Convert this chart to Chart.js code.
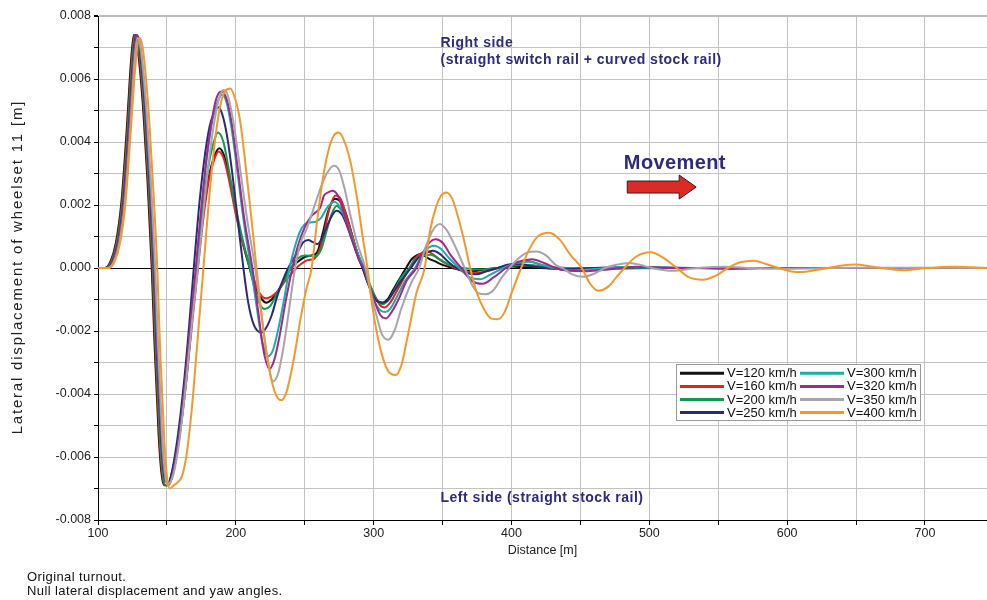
<!DOCTYPE html>
<html><head><meta charset="utf-8">
<script src="https://cdn.jsdelivr.net/npm/chart.js@4.4.0/dist/chart.umd.min.js"></script>
<style>html,body{margin:0;padding:0;background:#fff;}canvas{display:block;}</style>
</head><body>
<canvas id="c" width="987" height="600"></canvas>
<script>
// ---- data: [distance (m), lateral displacement (m)] ----
const s120 = [[100,0],[105,0],[109,0.0002],[113,0.0008],[117,0.0021],[121,0.0045],[124,0.0066],[126,0.0074],[128,0.0072],[130,0.0065],[133,0.0049],[136,0.0027],[139,0],[141,-0.0024],[144,-0.0053],[146,-0.0065],[148,-0.0069],[150,-0.0069],[153,-0.0066],[158,-0.0055],[163,-0.0038],[167,-0.0021],[172,0],[176,0.0016],[180,0.0028],[184,0.0035],[188,0.0038],[192,0.0035],[196,0.0027],[200,0.0018],[205,0.0008],[210,0],[215,-0.0007],[219,-0.001],[222,-0.0011],[226,-0.001],[231,-0.0007],[236,-0.0003],[240,0],[245,0.0002],[250,0.00035],[255,0.0004],[259,0.0005],[263,0.0011],[267,0.0018],[272,0.0022],[276,0.0021],[280,0.0017],[284,0.0011],[288,0.0005],[292,0],[296,-0.0005],[300,-0.0009],[303,-0.00105],[306.5,-0.0011],[310,-0.001],[314,-0.0007],[318,-0.0004],[323.5,0],[328,0.0003],[334,0.00044],[340,0.0003],[345,0.0002],[350,0.0001],[357,0],[365,-0.00008],[372,-0.0001],[380,-0.00005],[390,0],[400,0.00005],[410,0.00002],[420,0],[440,-0.00002],[470,0.00001],[520,0],[745,0]];
const s160 = [[100,0],[105.5,0],[109.5,0.0002],[113.5,0.0008],[117.5,0.0021],[121.5,0.0045],[124.5,0.0066],[126.5,0.0074],[128.5,0.0072],[130.5,0.0065],[133.5,0.0049],[136.5,0.0027],[139.5,0],[141.5,-0.0024],[144.5,-0.0053],[146.5,-0.0065],[148.5,-0.0069],[150.5,-0.0069],[153.5,-0.0066],[158.5,-0.0055],[163.5,-0.0038],[167.5,-0.0021],[172.5,0],[176.5,0.0016],[180.5,0.0028],[184,0.0034],[187.5,0.0037],[191,0.0035],[195,0.0028],[200,0.0017],[205,0.0008],[211,0],[215,-0.0006],[219,-0.0009],[222,-0.00096],[226,-0.0009],[231,-0.0007],[236,-0.0004],[240,-0.0002],[244,0],[248,0.00015],[252,0.00025],[257,0.0003],[261,0.0006],[264,0.0011],[268,0.0019],[272.5,0.0023],[276,0.0022],[280,0.0017],[284,0.0011],[288,0.0005],[293,0],[297,-0.0005],[301,-0.0009],[305,-0.0012],[308,-0.00125],[312,-0.0011],[316,-0.0008],[321,-0.0004],[326,0],[330,0.0003],[335,0.00048],[339,0.00052],[344,0.0004],[350,0.0002],[359,0],[366,-0.0001],[374,-0.00015],[382,-0.0001],[390,0],[400,0.00012],[412,0.00022],[420,0.00012],[430,0],[440,-0.00005],[460,-0.00003],[490,0],[745,0]];
const s200 = [[100,0],[106,0],[110,0.0002],[114,0.0008],[118,0.0021],[122,0.0045],[125,0.0066],[127,0.0074],[129,0.0072],[131,0.0065],[134,0.0049],[137,0.0027],[140,0],[142,-0.0024],[145,-0.0053],[147,-0.0065],[149,-0.0069],[151,-0.0069],[154,-0.0066],[159,-0.0054],[163,-0.004],[167,-0.0022],[171.5,0],[176,0.0019],[180,0.0032],[184,0.004],[187,0.0043],[191,0.004],[195,0.0031],[200,0.0019],[205,0.0009],[210,0],[214,-0.0007],[218,-0.0012],[221,-0.0013],[225,-0.0012],[230,-0.0008],[235,-0.0004],[240,0],[245,0.0003],[250,0.0004],[258,0.00038],[262,0.0006],[266,0.0012],[269.5,0.0017],[273,0.00197],[277,0.0018],[281,0.0014],[285,0.0009],[289,0.0004],[293,0],[297,-0.0005],[301,-0.0009],[304,-0.0011],[307,-0.00115],[311,-0.001],[315,-0.0007],[320,-0.0003],[326,0],[331,0.0003],[337,0.0004],[341.5,0.00042],[347,0.0003],[355,0.0001],[365,0],[378,-0.00005],[390,0],[410,0.0001],[425,0.00004],[440,0],[470,-0.00002],[520,0],[745,0]];
const s250 = [[100,0],[106.5,0],[110.5,0.0002],[114.5,0.0008],[118.5,0.0021],[122.5,0.0045],[125.5,0.0066],[127.5,0.0074],[129.5,0.0072],[131.5,0.0065],[134.5,0.0049],[137.5,0.0027],[140.5,0],[142.5,-0.0024],[145.5,-0.0052],[147.5,-0.0064],[149.5,-0.0068],[151.5,-0.0068],[154,-0.0064],[158,-0.0053],[162,-0.0038],[166,-0.0019],[169.5,0],[173,0.0018],[177,0.0034],[181,0.0045],[184,0.0049],[187,0.0051],[190,0.0049],[194,0.0041],[198,0.0028],[202,0.0013],[205.5,0],[209,-0.0011],[213,-0.0018],[218.5,-0.00205],[222,-0.0019],[226,-0.0015],[230,-0.0009],[234,-0.0004],[238,0],[242,0.0003],[246,0.0006],[249,0.00082],[252.5,0.00089],[256,0.00082],[259,0.00076],[262,0.0009],[265,0.0012],[269,0.0016],[273,0.00182],[277,0.0017],[281,0.0013],[285,0.0008],[289,0.0003],[292,0],[296,-0.0005],[300,-0.0009],[303,-0.00107],[306.5,-0.0011],[310,-0.00105],[314,-0.0008],[320,-0.0004],[327,0],[332,0.0003],[338,0.00048],[343,0.00055],[348,0.00045],[354,0.0002],[360,0],[367,-0.00015],[374.4,-0.0002],[382,-0.0001],[390,0],[397,0.0001],[405,0.00013],[415,0.00005],[425,0],[440,-0.00004],[460,0],[500,0.00002],[560,-0.00002],[600,0],[745,0]];
const s300 = [[100,0],[107,0],[111,0.0002],[115,0.0008],[119,0.0021],[123,0.0045],[126,0.0066],[128,0.0074],[130,0.0072],[132,0.0065],[135,0.0049],[138,0.0027],[141,0],[143,-0.0024],[146,-0.0052],[148,-0.0064],[150,-0.0068],[152,-0.0068],[155,-0.0064],[159,-0.0053],[163,-0.0038],[167,-0.0019],[171,0],[175,0.0019],[179,0.0035],[183,0.0047],[187,0.0053],[190,0.0055],[193,0.0053],[197,0.0044],[201,0.0031],[206,0.0014],[211,0],[215,-0.0012],[219,-0.0023],[223.5,-0.0028],[227,-0.0026],[231,-0.0019],[235,-0.001],[239,0],[243,0.0007],[247,0.0012],[251,0.00142],[255,0.00145],[258,0.00147],[262,0.0016],[266,0.0019],[271.5,0.0021],[276,0.0019],[280,0.0015],[284,0.001],[289,0.0004],[293,0],[297,-0.0006],[301,-0.0011],[305,-0.00135],[308.5,-0.0014],[312,-0.0013],[317,-0.0009],[323,-0.0004],[330,0],[335,0.0004],[340,0.00065],[344,0.00071],[349,0.0006],[355,0.0003],[362,0],[370,-0.0003],[377,-0.00036],[385,-0.0002],[394,0],[403,0.00015],[413,0.0002],[422,0.0001],[430,0],[445,-0.00008],[460,-0.00003],[480,0.00003],[520,0],[745,0]];
const s320 = [[100,0],[107,0],[111,0.0002],[115,0.0008],[119,0.0021],[123,0.0045],[126,0.0066],[128,0.0074],[130,0.0072],[132,0.0065],[135,0.0049],[138,0.0027],[141,0],[143,-0.0024],[146,-0.0052],[148,-0.0064],[150,-0.0068],[152,-0.0068],[155,-0.0064],[159,-0.0053],[163,-0.0037],[167,-0.0018],[171,0],[175,0.0019],[179,0.0036],[183,0.0048],[186,0.0054],[189.5,0.0056],[193,0.0054],[197,0.0046],[201,0.0033],[206,0.0016],[212,0],[216,-0.0013],[220,-0.0026],[224.5,-0.0032],[228,-0.0029],[232,-0.0021],[236,-0.0011],[241,0],[245,0.0007],[250,0.0013],[254,0.0016],[257,0.00174],[261,0.0019],[264,0.0023],[267,0.0024],[270,0.00245],[274,0.0023],[278,0.0018],[282,0.0012],[286,0.0007],[290,0.0002],[293,0],[297,-0.0006],[301,-0.0011],[305,-0.0015],[309,-0.0016],[313,-0.0014],[318,-0.001],[324,-0.0004],[331,0],[336,0.0005],[341,0.00083],[345,0.00091],[350,0.0008],[356,0.0004],[363.5,0],[371,-0.0004],[379,-0.0005],[387,-0.0003],[396,0],[405,0.0002],[415,0.00028],[424,0.00015],[432,0],[440,-0.00008],[455,-0.0001],[470,-0.00005],[490,0.00004],[510,0],[745,0]];
const s350 = [[100,0],[107,0],[111.5,0.0002],[115.5,0.0008],[119.5,0.0021],[123.5,0.0045],[126.5,0.0066],[128.5,0.0073],[130.5,0.0071],[132.5,0.0064],[135.5,0.0048],[138.5,0.0026],[141.5,0],[143.5,-0.0024],[146.5,-0.0053],[148.5,-0.0065],[150.5,-0.0069],[152.5,-0.0068],[155,-0.0065],[159,-0.0055],[163,-0.004],[168,-0.0018],[172.5,0],[177,0.002],[181,0.0036],[185,0.0048],[188,0.0054],[191,0.00565],[194,0.0055],[198,0.0047],[202,0.0035],[208,0.0016],[214,0],[218,-0.0013],[222,-0.0026],[227,-0.0036],[231,-0.0033],[235,-0.0024],[239,-0.0012],[243,0],[247,0.0008],[251,0.0012],[255,0.0017],[258.5,0.00216],[262,0.0026],[266,0.003],[271,0.00325],[275,0.0031],[279,0.0025],[283,0.0017],[288,0.0008],[294,0],[298,-0.0008],[302,-0.0015],[306,-0.0021],[310.5,-0.00228],[315,-0.002],[320,-0.0013],[327,-0.0005],[333,0],[338,0.0007],[343,0.0012],[348,0.0014],[353,0.0012],[359,0.0007],[366,0],[371,-0.0005],[376,-0.0008],[381.6,-0.00083],[387,-0.0007],[393,-0.0003],[398.5,0],[405,0.0003],[412,0.0005],[418,0.00052],[425,0.0004],[432,0.0001],[437,0],[444,-0.0002],[451.7,-0.00028],[459,-0.0002],[468,0],[476,0.0001],[485,0.00016],[493,0.0001],[502,0],[516.7,-0.00009],[535,0],[555,0.00004],[575,0],[600,-0.00002],[650,0.00001],[745,0]];
const s400 = [[100,0],[108,0],[112,0.0002],[116,0.0008],[120,0.0021],[124,0.0045],[127.5,0.0066],[130,0.0073],[132,0.0071],[134,0.0064],[137,0.0048],[140,0.0026],[143,0],[145,-0.0025],[148,-0.0054],[150,-0.0066],[152,-0.007],[155,-0.0069],[158,-0.0068],[161,-0.0066],[164,-0.006],[168,-0.0045],[172,-0.0024],[176.5,0],[180,0.0019],[184,0.0037],[188,0.005],[192,0.0056],[196,0.0057],[200,0.0053],[203,0.0047],[207,0.0033],[211,0.0017],[215,0],[219,-0.0016],[223,-0.0029],[228,-0.0039],[233,-0.0042],[237,-0.0039],[242,-0.0029],[247,-0.0016],[251,-0.0007],[255,0],[259,0.0015],[263,0.0028],[267,0.0037],[271,0.0042],[274.6,0.0043],[278,0.0041],[283,0.0034],[288,0.0022],[292,0.001],[295.5,0],[299,-0.0012],[303,-0.0022],[307,-0.0029],[311,-0.0033],[316,-0.0034],[320,-0.0031],[325,-0.0021],[331,-0.0008],[337,0],[341,0.0012],[345,0.0019],[349,0.0023],[352.7,0.0024],[357,0.0022],[362,0.0015],[366,0.0008],[370,0],[375,-0.0008],[380,-0.0013],[385,-0.0016],[390,-0.00163],[395,-0.0014],[400,-0.0008],[407,0],[413,0.0006],[419,0.001],[427.5,0.00112],[435,0.0009],[443,0.0004],[451,0],[457,-0.0005],[463,-0.00072],[470,-0.0006],[476,-0.0003],[482,0],[490,0.00035],[501,0.0005],[511,0.0003],[520,0],[529,-0.0003],[538.6,-0.00037],[548,-0.00025],[557,0],[566,0.00018],[576,0.00023],[585,0.00012],[594,0],[602,-0.0001],[611,-0.00013],[620,-0.00007],[630,0],[640,0.00008],[650,0.00011],[659,0.00006],[668,0],[677,-0.00005],[686,-0.00007],[695,-0.00003],[704,0],[713,0.00003],[722,0.00004],[733,0.00002],[745,0]];

const seriesData = [s120, s160, s200, s250, s300, s320, s350, s400];
const seriesLabels = ['V=120 km/h','V=160 km/h','V=200 km/h','V=250 km/h','V=300 km/h','V=320 km/h','V=350 km/h','V=400 km/h'];
const seriesColors = ['#111111','#e2241f','#12994a','#2b2a78','#1bada8','#a2288b','#a5a5ab','#f2992d'];
const xTickLabels = [100,200,300,400,500,600,700];
const yTickLabels = [-0.008,-0.006,-0.004,-0.002,0,0.002,0.004,0.006,0.008];

const FONT = '"Liberation Sans", Arial, Helvetica, sans-serif';
const NAVY = '#2e2a7c';

function textWidth(ctx, text, sp) {
  let w = 0;
  for (const ch of text) w += ctx.measureText(ch).width + sp;
  return w - sp;
}
function spacedText(ctx, text, x, y, sp) {
  let cx = x;
  for (const ch of text) { ctx.fillText(ch, cx, y); cx += ctx.measureText(ch).width + sp; }
}

const overlay = {
  id: 'overlay',
  afterDraw(chart) {
    const {ctx, scales: {x, y}} = chart;
    ctx.save();
    ctx.textAlign = 'left';
    ctx.textBaseline = 'middle';
    // annotations
    ctx.fillStyle = NAVY;
    ctx.font = 'bold 14px ' + FONT;
    spacedText(ctx, 'Right side', x.getPixelForValue(348.5), y.getPixelForValue(0.00714), 0.5);
    spacedText(ctx, '(straight switch rail + curved stock rail)', x.getPixelForValue(348.5), y.getPixelForValue(0.00660), 0.5);
    spacedText(ctx, 'Left side (straight stock rail)', x.getPixelForValue(348.5), y.getPixelForValue(-0.00730), 0.5);
    ctx.font = 'bold 20px ' + FONT;
    spacedText(ctx, 'Movement', x.getPixelForValue(481.5), y.getPixelForValue(0.00333), 0.4);
    // arrow
    const ax0 = x.getPixelForValue(484), ax1 = x.getPixelForValue(534);
    const ay = y.getPixelForValue(0.00257);
    const hl = 17, bh = 6, hh = 12;
    ctx.beginPath();
    ctx.moveTo(ax0, ay - bh);
    ctx.lineTo(ax1 - hl, ay - bh);
    ctx.lineTo(ax1 - hl, ay - hh);
    ctx.lineTo(ax1, ay);
    ctx.lineTo(ax1 - hl, ay + hh);
    ctx.lineTo(ax1 - hl, ay + bh);
    ctx.lineTo(ax0, ay + bh);
    ctx.closePath();
    ctx.fillStyle = '#dc2a27';
    ctx.fill();
    ctx.strokeStyle = '#4a1414';
    ctx.lineWidth = 1;
    ctx.stroke();
    // legend
    const lx = 676.5, ly = 364.5, lw = 244, lh = 56;
    ctx.fillStyle = '#fff';
    ctx.fillRect(lx, ly, lw, lh);
    ctx.strokeStyle = '#9a9a9a';
    ctx.lineWidth = 1;
    ctx.strokeRect(lx, ly, lw, lh);
    ctx.font = '13px ' + FONT;
    chart.data.datasets.forEach((ds, i) => {
      const col = Math.floor(i / 4), row = i % 4;
      const sx = 680 + col * 120;
      const sy = 373.3 + row * 13.1;
      ctx.strokeStyle = ds.borderColor;
      ctx.lineWidth = 3;
      ctx.beginPath();
      ctx.moveTo(sx, sy);
      ctx.lineTo(sx + 44, sy);
      ctx.stroke();
      ctx.fillStyle = '#111';
      ctx.fillText(ds.label, sx + 47, sy + 0.5);
    });
    // y axis title
    ctx.fillStyle = '#222';
    ctx.font = '15px ' + FONT;
    const yt = 'Lateral displacement of wheelset 11 [m]';
    const ytw = textWidth(ctx, yt, 1.8);
    ctx.save();
    ctx.translate(18, (chart.chartArea.top + chart.chartArea.bottom) / 2);
    ctx.rotate(-Math.PI / 2);
    spacedText(ctx, yt, -ytw / 2, 0, 1.8);
    ctx.restore();
    // footnote
    ctx.fillStyle = '#111';
    ctx.font = '13px ' + FONT;
    spacedText(ctx, 'Original turnout.', 27, 577, 0.4);
    spacedText(ctx, 'Null lateral displacement and yaw angles.', 27, 591, 0.4);
    ctx.restore();
  }
};

const datasets = seriesData.map((s, i) => ({
  label: seriesLabels[i],
  data: s.map(p => ({x: p[0], y: p[1]})),
  borderColor: seriesColors[i],
  backgroundColor: seriesColors[i],
  borderWidth: 2,
  pointRadius: 0,
  fill: false,
  cubicInterpolationMode: 'monotone',
  order: seriesData.length - i
}));

new Chart(document.getElementById('c'), {
  type: 'line',
  data: {datasets},
  plugins: [overlay],
  options: {
    responsive: false,
    animation: false,
    devicePixelRatio: 1,
    layout: {padding: {top: 16, right: 0, left: 0, bottom: 0}},
    plugins: {legend: {display: false}, tooltip: {enabled: false}},
    scales: {
      x: {
        type: 'linear', min: 100, max: 745,
        afterFit(s) { s.height = 80; },
        border: {color: '#000', width: 1},
        grid: {color: '#c3c3c3', lineWidth: 1, tickColor: '#000', tickLength: 5},
        ticks: {stepSize: 50, includeBounds: false, autoSkip: false, maxRotation: 0, padding: 1,
          color: '#222', font: {family: FONT, size: 12.5},
          callback: v => xTickLabels.includes(v) ? String(v) : ''},
        title: {display: true, text: 'Distance [m]', color: '#222', font: {family: FONT, size: 12.5},
          padding: {top: 0, bottom: 42}}
      },
      y: {
        type: 'linear', min: -0.008, max: 0.008,
        afterFit(s) { s.width = 98; },
        border: {color: '#000', width: 1},
        grid: {
          color: c => (c.tick && Math.abs(c.tick.value) < 1e-9) ? '#000' : (c.tick && c.tick.value > 0.0079 ? '#bcbcbc' : '#c3c3c3'),
          lineWidth: c => (c.tick && c.tick.value > 0.0079) ? 2 : 1,
          tickColor: '#000', tickLength: 4
        },
        ticks: {stepSize: 0.001, autoSkip: false, padding: 3, color: '#222', font: {family: FONT, size: 12.5},
          callback: v => yTickLabels.some(t => Math.abs(t - v) < 1e-9) ? v.toFixed(3) : ''},
        title: {display: false}
      }
    }
  }
});
</script>
</body></html>
